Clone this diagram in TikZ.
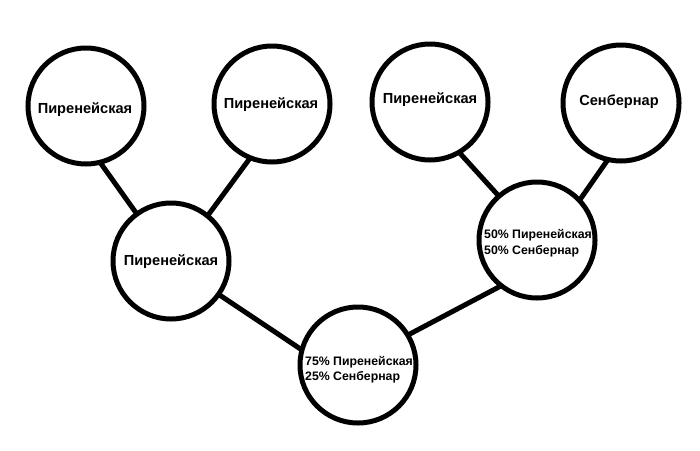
\documentclass[tikz,border=0pt]{standalone}
\usepackage{fontspec}
\setmainfont{Liberation Sans}
\begin{document}
\begin{tikzpicture}[x=1pt,y=-1pt,
  dog/.style={circle,draw=black,line width=5pt,minimum size=116pt,inner sep=0pt,outer sep=0pt},
  big/.style={font=\fontsize{14.6}{16}\selectfont\bfseries},
  small/.style={font=\fontsize{12.3}{15.5}\selectfont\bfseries,align=left,inner sep=0pt},
  link/.style={line width=5pt}]
\useasboundingbox (0,0) rectangle (700,450);
\node[dog] (a) at (86,106) {};
\node[dog] (b) at (272,104) {};
\node[dog] (c) at (430,102) {};
\node[dog] (d) at (621,103) {};
\node[dog] (m) at (171,261) {};
\node[dog] (n) at (537,240) {};
\node[dog] (r) at (358,365) {};
\node[big] (ta) at (85,110) {Пиренейская};
\node[big] (tb) at (271,105) {Пиренейская};
\node[big] (tc) at (430,100) {Пиренейская};
\node[big] (td) at (619,102) {Сенбернар};
\node[big] (tm) at (171,262) {Пиренейская};
\node[small] (tn) at (538,243) {50\% Пиренейская\\50\% Сенбернар};
\node[small] (tr) at (359,369.5) {75\% Пиренейская\\25\% Сенбернар};
\draw[link] (a.-76) -- (m.126);
\draw[link] (b.-112) -- (m.51);
\draw[link] (c.-60) -- (n.131);
\draw[link] (d.-103) -- (n.43);
\draw[link] (m.-35) -- (r.165);
\draw[link] (r.31) -- (n.232);
\end{tikzpicture}
\end{document}
